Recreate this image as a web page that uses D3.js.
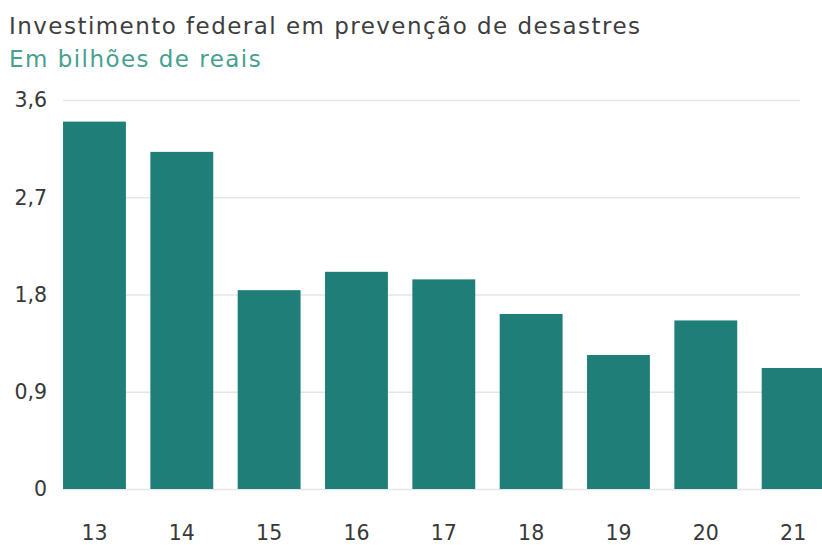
<!DOCTYPE html>
<html>
<head>
<meta charset="utf-8">
<script src="https://cdn.jsdelivr.net/npm/d3@7"></script>
<style>
  html, body { margin: 0; padding: 0; background: #fff; }
  svg { display: block; font-family: "DejaVu Sans", Verdana, sans-serif; }
</style>
</head>
<body>
<svg id="chart" width="822" height="545"></svg>
<script>
// Federal investment in disaster prevention, billions of reais
const years = ["13", "14", "15", "16", "17", "18", "19", "20", "21"];
const values = [3.40, 3.12, 1.84, 2.01, 1.94, 1.62, 1.24, 1.56, 1.12];
const yTicks = [0, 0.9, 1.8, 2.7, 3.6];
const yTickLabels = ["0", "0,9", "1,8", "2,7", "3,6"];

const svg = d3.select("#chart");
const FONT = "\"DejaVu Sans\", Verdana, sans-serif";
const plot = { left: 63, right: 800, top: 100, bottom: 489 };

const x = d3.scaleBand()
  .domain(years)
  .range([50.8, 836.8])
  .paddingInner(0.28)
  .paddingOuter(0.14);

const y = d3.scaleLinear()
  .domain([0, 3.6])
  .range([plot.bottom, plot.top]);

// Title and subtitle
const HEAD_SIZE = 23;
const title = svg.append("text")
  .attr("x", 9).attr("y", 34)
  .attr("font-size", HEAD_SIZE)
  .attr("fill", "#3e3e3e")
  .text("Investimento federal em prevenção de desastres");

const subtitle = svg.append("text")
  .attr("x", 9).attr("y", 67)
  .attr("font-size", HEAD_SIZE)
  .attr("fill", "#46a08f")
  .text("Em bilhões de reais");

// open up the heading's tracking so the title runs to x = 640
const titleText = title.text();
const rawWidth = title.node().getComputedTextLength();
const tracking = Math.max(0, (631 - rawWidth) / (titleText.length - 1));
title.attr("letter-spacing", tracking);
subtitle.attr("letter-spacing", tracking);

// Horizontal gridlines with value labels
const yAxis = d3.axisLeft(y)
  .tickValues(yTicks)
  .tickFormat((d, i) => yTickLabels[i])
  .tickSize(-(plot.right - plot.left))
  .tickPadding(16);

const gy = svg.append("g")
  .attr("transform", `translate(${plot.left},0)`)
  .call(yAxis);
gy.select(".domain").remove();
gy.selectAll(".tick line").attr("stroke", "#e6e6e6").attr("stroke-width", 1.5);
gy.selectAll(".tick text")
  .attr("font-size", 20.5)
  .attr("fill", "#383838")
  .attr("font-family", FONT)
  .attr("dy", "0.33em");

// Bars
svg.append("g")
  .selectAll("rect")
  .data(values)
  .join("rect")
  .attr("x", (d, i) => x(years[i]))
  .attr("width", x.bandwidth())
  .attr("y", d => y(d))
  .attr("height", d => y(0) - y(d))
  .attr("fill", "#1f7f78");

// Year labels
const xAxis = d3.axisBottom(x).tickSize(0).tickPadding(0);
const gx = svg.append("g")
  .attr("transform", `translate(0,${plot.bottom})`)
  .call(xAxis);
gx.select(".domain").remove();
gx.selectAll(".tick text")
  .attr("font-size", 20.5)
  .attr("fill", "#383838")
  .attr("font-family", FONT)
  .attr("dy", 0)
  .attr("y", 51);
</script>
</body>
</html>
